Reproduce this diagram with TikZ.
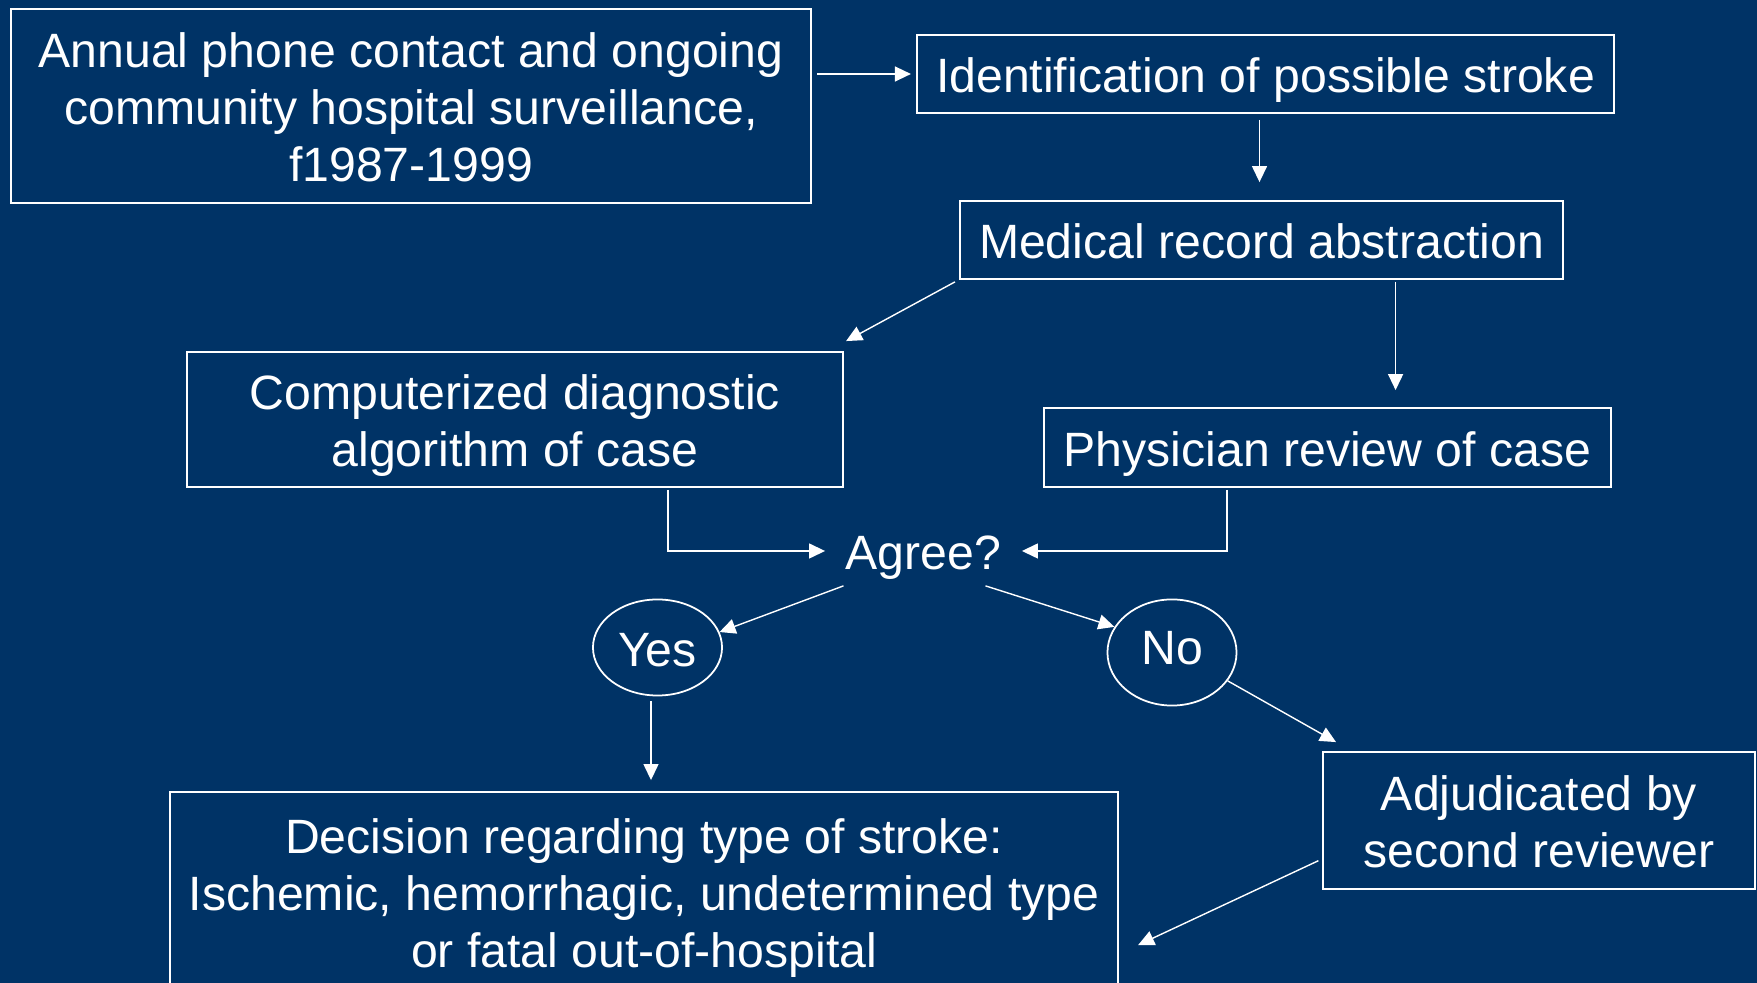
\documentclass[tikz,border=0pt]{standalone}
\usepackage{fontspec}
\setmainfont{Liberation Sans}
\usepackage{tikz}
\usetikzlibrary{arrows.meta,positioning,shapes.geometric,calc}
\usepackage{xcolor}
\definecolor{navy}{RGB}{0,51,102}
\newcommand{\firstline}{\rule{0pt}{0.5cm}}

\begin{document}
\begin{tikzpicture}[
    x=0.01cm, y=-0.01cm,
    txt/.style={text=white, font=\fontsize{13.7}{16.3}\selectfont,
        execute at begin node={\firstline}, execute at end node={\rule[-0.13cm]{0pt}{0pt}}},
    box/.style={txt, rectangle, draw=white, line width=0.5pt, inner sep=0pt, align=center},
    oval/.style={txt, ellipse, draw=white, line width=0.5pt, inner sep=0pt, minimum width=1.29cm, minimum height=0.96cm},
    arrow/.style={-{Triangle[length=0.16cm, width=0.15cm]}, white, line width=0.4pt}
]
\fill[navy] (0,0) rectangle (1757,983);
\clip (0,0) rectangle (1757,983);

\node[box, minimum width=8.0cm, minimum height=1.94cm] (ann) at (411,106) {\firstline Annual phone contact and ongoing\\community hospital surveillance,\\f1987-1999};
\node[box, minimum width=6.97cm, minimum height=0.78cm] (ident) at (1265.5,74) {Identification of possible stroke};
\node[box, minimum width=6.03cm, minimum height=0.78cm] (med) at (1261.5,240) {Medical record abstraction};
\node[box, minimum width=6.56cm, minimum height=1.35cm] (comp) at (515,419.5) {\firstline Computerized diagnostic\\algorithm of case};
\node[box, minimum width=5.67cm, minimum height=0.79cm] (phys) at (1327.5,447.5) {Physician review of case};
\node[box, draw=none, minimum width=1.95cm, minimum height=0.68cm] (agree) at (923.5,551) {Agree?};
\node[oval] (yes) at (657.5,647.5) {Yes};
\node[oval, execute at end node={\rule[-0.25cm]{0pt}{0pt}}] (no) at (1172,652.5) {No};
\node[box, minimum width=9.48cm, minimum height=2.0cm] (dec) at (644,892) {\firstline Decision regarding type of stroke:\\Ischemic, hemorrhagic, undetermined type\\or fatal out-of-hospital};
\node[box, minimum width=4.32cm, minimum height=1.37cm] (adj) at (1539,820.5) {\firstline Adjudicated by\\second reviewer};

\coordinate (mp) at ([xshift=1.34cm]med.south);
\coordinate (cp) at ([xshift=1.53cm]comp.south);
\coordinate (pp) at ([xshift=-1.005cm]phys.south);
\coordinate (ip) at ([xshift=-0.06cm]ident.south);
\coordinate (yp) at ([xshift=-0.065cm]yes.south);

\draw[arrow, shorten <=0.05cm, shorten >=0.05cm] (ann.east |- ident) -- (ident.west);
\draw[arrow, shorten <=0.06cm, shorten >=0.18cm] (ip) -- (ip |- med.north);
\draw[arrow] ([xshift=-0.04cm, yshift=-0.02cm]med.south west) -- ([xshift=0.02cm, yshift=0.1cm]comp.north east);
\draw[arrow, shorten <=0.02cm, shorten >=0.17cm] (mp) -- (mp |- phys.north);
\draw[arrow, shorten <=0.02cm] (cp) |- (agree.west);
\draw[arrow, shorten <=0.02cm] (pp) |- (agree.east);
\draw[arrow] ([xshift=-0.8cm]agree.south) -- (yes.14);
\draw[arrow] ([xshift=0.62cm]agree.south) -- (no.156);
\draw[arrow, shorten <=0.05cm, shorten >=0.11cm] (yp) -- (yp |- dec.north);
\draw[arrow] (no.-27) -- ([xshift=0.14cm, yshift=0.09cm]adj.north west);
\draw[arrow, shorten <=0.04cm] ([yshift=-0.385cm]adj.west) -- ([xshift=0.19cm, yshift=-0.53cm]dec.east);
\end{tikzpicture}
\end{document}
